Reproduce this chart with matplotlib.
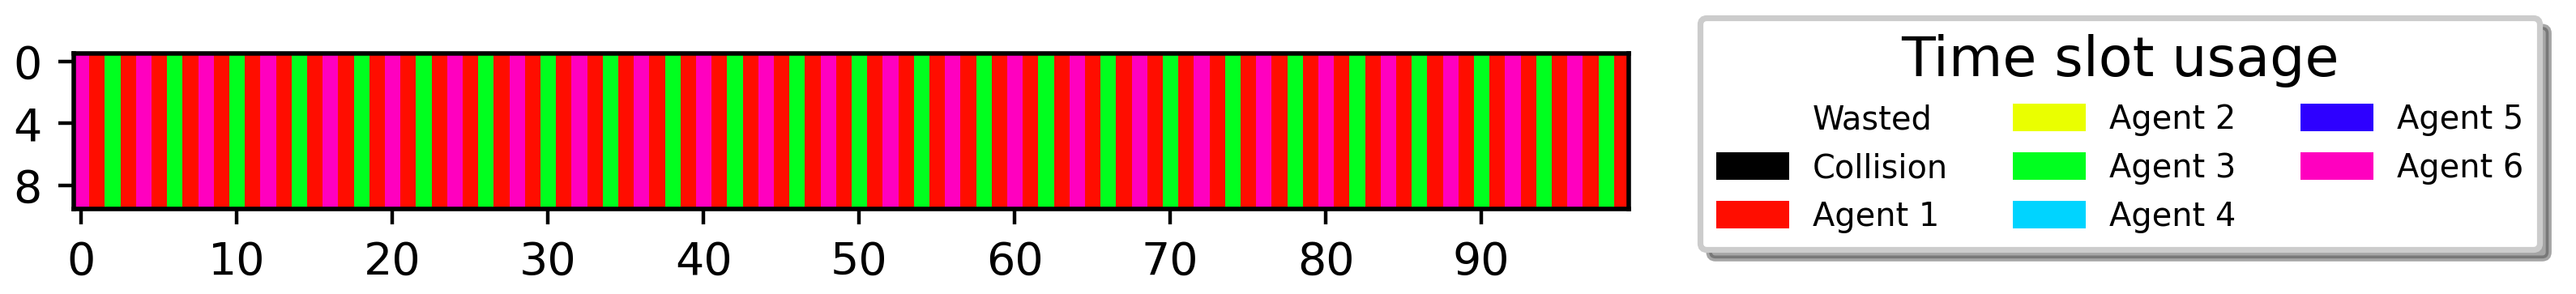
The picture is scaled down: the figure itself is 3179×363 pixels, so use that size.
import numpy as np
import matplotlib
matplotlib.use("Agg")
import matplotlib.pyplot as plt
from matplotlib.colors import ListedColormap, BoundaryNorm
from matplotlib.patches import Patch

# legend categories and their colours
categories = ["Wasted", "Collision", "Agent 1", "Agent 2", "Agent 3",
              "Agent 4", "Agent 5", "Agent 6"]
category_colors = ["#ffffff", "#000000", "#ff0d00", "#eaff00", "#00ff1f",
                   "#00d4ff", "#2e00ff", "#ff00bf"]

# owner of each of the 100 time slots (index into categories)
slot_owner = [7, 2, 4, 2, 7, 2, 4, 2, 7, 2, 4, 2, 7, 2, 4, 2, 7, 2, 4, 2,
              7, 2, 4, 2, 7, 2, 4, 2, 7, 2, 4, 2, 7, 2, 4, 2, 7, 2, 4, 2,
              7, 2, 4, 2, 7, 2, 4, 2, 7, 2, 4, 2, 7, 2, 4, 2, 7, 2, 4, 2,
              7, 2, 4, 2, 7, 2, 4, 2, 7, 2, 4, 2, 7, 2, 4, 2, 7, 2, 4, 2,
              7, 2, 4, 2, 7, 2, 4, 2, 7, 2, 4, 2, 7, 2, 4, 2, 7, 2, 4, 2]
n_rows = 10

grid = np.array([slot_owner] * n_rows)

cmap = ListedColormap(category_colors)
norm = BoundaryNorm(np.arange(len(categories) + 1) - 0.5, cmap.N)

fig = plt.figure(figsize=(3179 / 400, 363 / 400), dpi=400)
ax = fig.add_axes([0.0280, 0.2893, 0.6049, 0.5289])
ax.imshow(grid, cmap=cmap, norm=norm, interpolation="nearest")
ax.set_yticks([0, 4, 8])
ax.set_xticks(range(0, 100, 10))
for s in ax.spines.values():
    s.set_linewidth(1.0)

handles = [Patch(facecolor=c, label=l) for c, l in zip(category_colors, categories)]
leg = fig.legend(handles=handles, ncol=3, title="Time slot usage",
                 loc="upper left", bbox_to_anchor=(2098 / 3179, 1 - 22 / 363),
                 borderaxespad=0, fontsize=7.2, title_fontsize=12.3,
                 handlelength=2.25, handleheight=0.92, handletextpad=0.72,
                 columnspacing=2.0, labelspacing=0.5, borderpad=0.5,
                 fancybox=True, shadow=True, framealpha=1)
leg.get_frame().set_linewidth(1.3)

fig.savefig("out.png", dpi=400)
